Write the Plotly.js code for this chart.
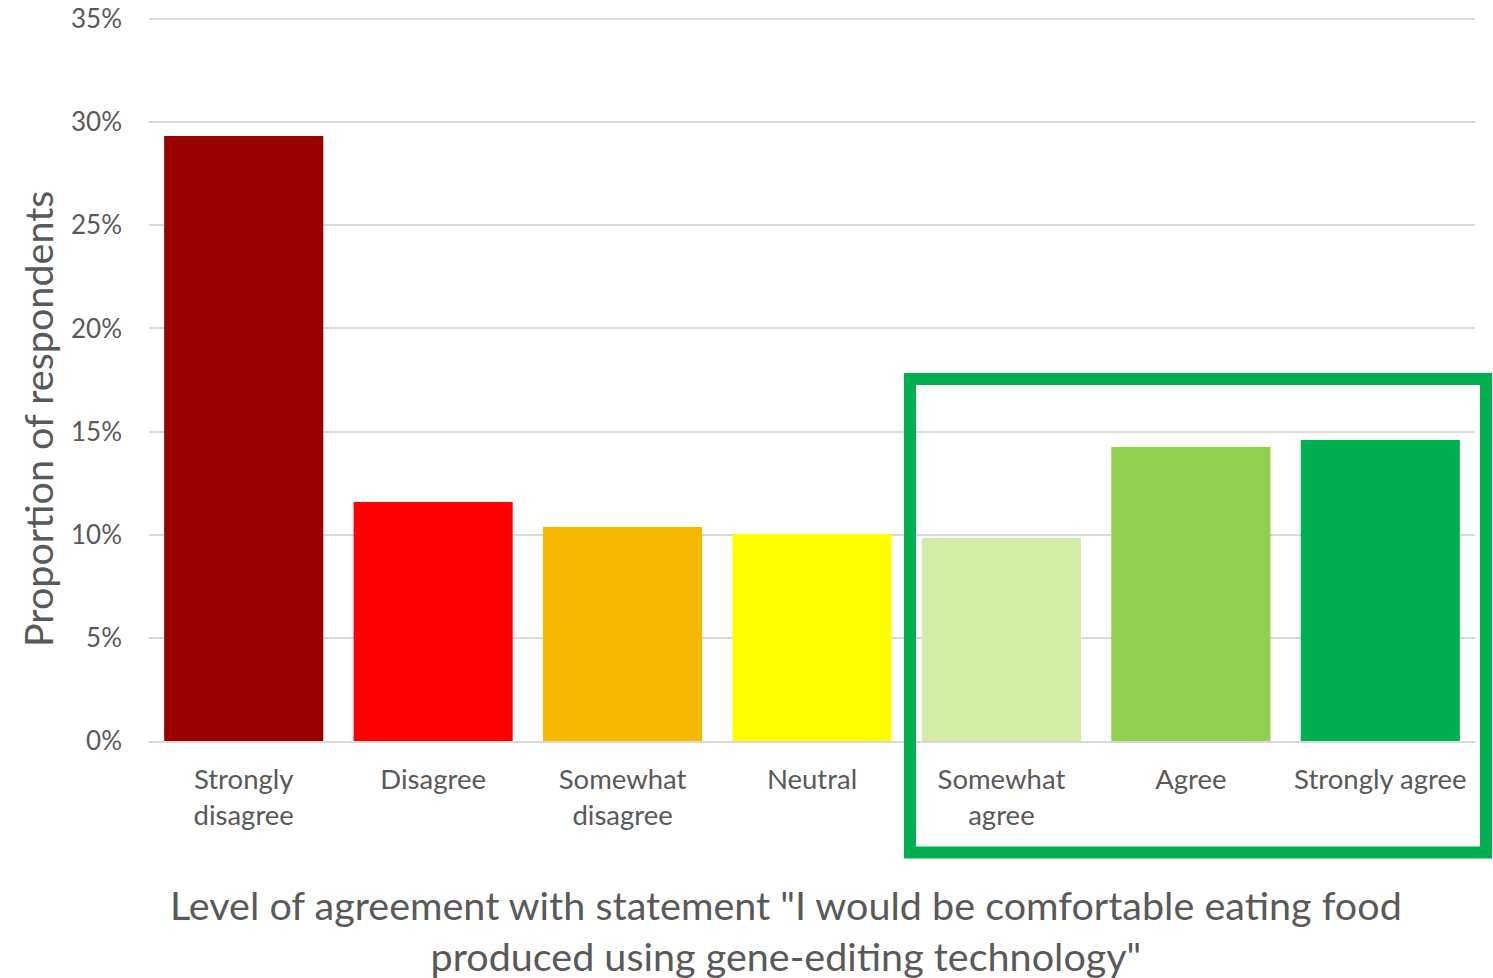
<!DOCTYPE html>
<html>
<head>
<meta charset="utf-8">
<script src="https://cdn.plot.ly/plotly-3.0.1.min.js"></script>
<style>html,body{margin:0;padding:0;background:#fff;}#chart{width:1493px;height:978px;}</style>
</head>
<body>
<div id="chart"></div>
<script>
const categories = ["Strongly<br>disagree", "Disagree", "Somewhat<br>disagree", "Neutral", "Somewhat<br>agree", "Agree", "Strongly agree"];
const values = [0.2933, 0.1159, 0.1037, 0.1003, 0.0984, 0.1425, 0.1459];
const colors = ["#990000", "#FF0000", "#F4B800", "#FFFF00", "#D3EDA6", "#92D050", "#00B050"];
const yTickVals = [0, 0.05, 0.10, 0.15, 0.20, 0.25, 0.30, 0.35];
const yTickText = ["0%", "5%", "10%", "15%", "20%", "25%", "30%", "35%"];
const yTitle = "Proportion of respondents";
const xTitle = 'Level of agreement with statement "I would be comfortable eating food<br>produced using gene-editing technology"';

const W = 1493, H = 978;
const L = 149, R = 18, T = 17, B = 237;
const pw = W - L - R, ph = H - T - B;
const px = v => (v - L) / pw;
const py = v => (H - B - v) / ph;
const FONT = "Lato, 'Open Sans', sans-serif";
const grey = "#595959";

const data = [{
  type: "bar",
  x: categories,
  y: values,
  marker: {color: colors, line: {width: 0}},
  hoverinfo: "none"
}];

const layout = {
  width: W, height: H,
  margin: {l: L, r: R, t: T, b: B, pad: 0},
  paper_bgcolor: "#fff", plot_bgcolor: "#fff",
  bargap: 0.16,
  showlegend: false,
  font: {family: FONT, color: grey},
  xaxis: {
    type: "category",
    tickfont: {size: 27.5, color: grey, family: FONT},
    showgrid: false,
    showline: true, linecolor: "#d9d9d9", linewidth: 2,
    ticks: "", ticklabelstandoff: 13,
    fixedrange: true
  },
  yaxis: {
    range: [0, 0.351],
    tickvals: yTickVals, ticktext: yTickText,
    tickfont: {size: 26, color: grey, family: FONT},
    showgrid: true, gridcolor: "#d9d9d9", gridwidth: 2,
    zeroline: false, showline: false,
    ticks: "", ticklabelstandoff: 26,
    fixedrange: true
  },
  annotations: [
    {text: yTitle, xref: "paper", yref: "paper", x: px(37), y: py(419), textangle: -90,
     showarrow: false, font: {size: 39.5, color: grey, family: FONT}, xanchor: "center", yanchor: "middle"},
    {text: xTitle, xref: "paper", yref: "paper", x: px(786), y: py(930), showarrow: false,
     font: {size: 39.5, color: grey, family: FONT}, xanchor: "center", yanchor: "middle", align: "center"}
  ],
  shapes: [
    {type: "rect", xref: "paper", yref: "paper", x0: px(910), x1: px(1486), y0: py(852.5), y1: py(379),
     line: {color: "#00B050", width: 12}, fillcolor: "rgba(0,0,0,0)", layer: "above"}
  ]
};

Plotly.newPlot("chart", data, layout, {displayModeBar: false, staticPlot: true});
</script>
</body>
</html>
